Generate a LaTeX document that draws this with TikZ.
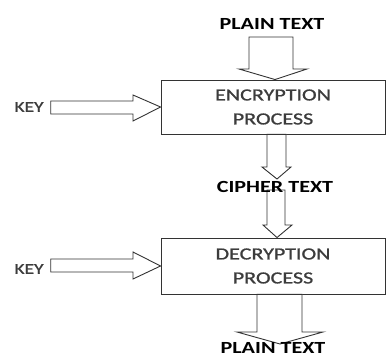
\documentclass[tikz,border=0pt]{standalone}
\usepackage{fontspec}
\setmainfont{Carlito}
\newfontfamily\medfont[FakeBold=0.9]{Carlito}
\usetikzlibrary{calc}
\definecolor{txtgray}{HTML}{3C3C3C}
\definecolor{linegray}{HTML}{333333}
\newcommand\wideText[1]{\scalebox{1.3}[1]{#1}}
\tikzset{
  procbox/.style={draw=linegray, line width=0.9pt, minimum width=224pt, inner sep=0pt, align=center, text=txtgray, font=\medfont\fontsize{17}{22}\selectfont},
  biglabel/.style={inner sep=0pt, font=\bfseries\fontsize{17}{20}\selectfont, text=black},
  keylabel/.style={inner sep=0pt, font=\medfont\fontsize{15}{18}\selectfont, text=txtgray},
  blockarrow/.style={draw=linegray, line width=0.9pt, fill=white, line join=miter}
}
\begin{document}
\begin{tikzpicture}[x=1pt,y=-1pt]
\useasboundingbox (0,0) rectangle (386,358);
% boxes
\node[procbox, minimum height=54pt] (enc) at (273,107) {\wideText{ENCRYPTION}\\[2pt]\wideText{PROCESS}};
\node[procbox, minimum height=56pt] (dec) at (273,266) {\wideText{DECRYPTION}\\[2pt]\wideText{PROCESS}};
% labels
\node[biglabel] (pt1) at (272,24) {\wideText{PLAIN TEXT}};
\node[keylabel] (key1) at (29,107) {\wideText{KEY}};
\node[keylabel] (key2) at (29,269) {\wideText{KEY}};
\coordinate (ctpos) at (275,187);
\coordinate (pt2pos) at (273,348);
% top arrow: plain text -> encryption
\draw[blockarrow] let \p1=(enc.north) in
  (\x1-24,37) -- (\x1+20,37) -- (\x1+20,69) -- (\x1+34,69) -- (\x1+2,\y1)
  -- (\x1-34,69) -- (\x1-24,69) -- cycle;
% key1 arrow
\draw[blockarrow] let \p1=(enc.west), \p2=(key1.east) in
  (\x2+7,\y1-7) -- (133,\y1-7) -- (133,\y1-14) -- (\x1,\y1) -- (133,\y1+12) -- (133,\y1+6) -- (\x2+7,\y1+6) -- cycle;
% key2 arrow
\draw[blockarrow] let \p1=(dec.west), \p2=(key2.east) in
  (\x2+7,\y1-6) -- (133,\y1-6) -- (133,\y1-13) -- (\x1,\y1) -- (133,\y1+14) -- (133,\y1+7) -- (\x2+7,\y1+7) -- cycle;
% encryption -> cipher text
\draw[blockarrow] let \p1=(enc.south) in
  (267,\y1) -- (286,\y1) -- (286,167) -- (291,167) -- (277,179) -- (262,167) -- (267,167) -- cycle;
% cipher text -> decryption
\draw[blockarrow] let \p1=(dec.north) in
  (267,190) -- (285,190) -- (285,225) -- (292,225) -- (277,\y1) -- (263,225) -- (267,225) -- cycle;
% decryption -> plain text
\draw[blockarrow] let \p1=(dec.south) in
  (257,\y1) -- (302,\y1) -- (302,332) -- (323,332) -- (280,344) -- (237,332) -- (257,332) -- cycle;
\node[biglabel] (ct) at (ctpos) {\wideText{CIPHER TEXT}};
\node[biglabel] (pt2) at (pt2pos) {\wideText{PLAIN TEXT}};
\end{tikzpicture}
\end{document}
